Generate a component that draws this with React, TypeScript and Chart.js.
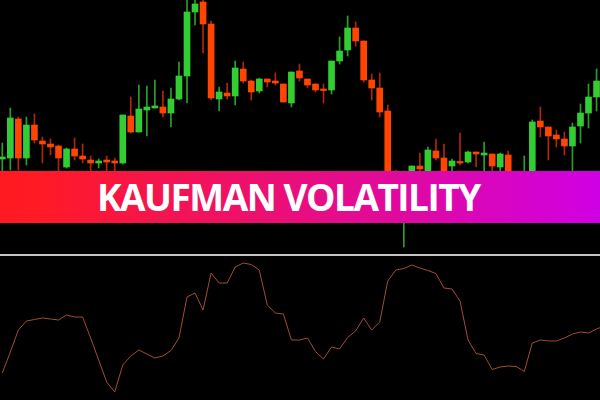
import React, { useEffect, useRef } from "react";
import { Chart, registerables } from "chart.js";

Chart.register(...registerables);

// Candles (price units, arbitrary scale)
const opens = [95, 96, 135, 96, 129, 113, 110, 108, 87, 105, 98, 94, 91, 94, 93, 91, 138, 122, 144, 146, 147, 141, 155, 178, 242, 252, 230, 155, 161, 158, 185, 173, 163, 175, 173, 170, 151, 183, 175, 170, 164, 164, 193, 204, 226, 213, 174, 166, 143, 82, 39, 80, 88, 82, 103, 96, 88, 92, 92, 102, 99, 100, 87, 99, 74, 60, 82, 133, 127, 119, 115, 108, 128, 141, 157];
const highs = [111, 146, 137, 137, 140, 117, 115, 109, 106, 116, 110, 98, 95, 98, 96, 139, 157, 169, 168, 174, 163, 166, 192, 256, 258, 256, 233, 167, 171, 193, 192, 174, 176, 175, 181, 170, 182, 190, 175, 170, 170, 193, 217, 238, 232, 213, 180, 181, 149, 84, 62, 88, 101, 107, 115, 110, 95, 121, 103, 102, 112, 100, 101, 103, 78, 98, 134, 147, 127, 124, 122, 131, 150, 170, 185];
const lows = [82, 84, 84, 89, 111, 91, 99, 82, 86, 94, 91, 82, 86, 82, 82, 90, 121, 122, 118, 146, 137, 127, 154, 151, 229, 201, 154, 143, 155, 149, 171, 154, 161, 167, 169, 152, 147, 173, 166, 162, 151, 160, 190, 198, 208, 172, 154, 137, 79, 49, 7, 70, 82, 80, 94, 80, 82, 89, 91, 87, 82, 82, 82, 80, 54, 55, 79, 117, 94, 107, 99, 82, 111, 126, 143];
const closes = [97, 136, 96, 129, 114, 110, 107, 96, 105, 98, 95, 91, 93, 92, 91, 139, 122, 145, 147, 148, 141, 155, 178, 242, 250, 230, 156, 162, 158, 186, 173, 162, 175, 172, 171, 152, 182, 176, 169, 164, 163.5, 193, 203, 226, 213, 174, 166, 142, 82, 59, 54, 88, 85, 104, 96, 82, 93, 91, 102, 100, 101, 88, 100, 82, 59, 78, 132, 127, 118, 115, 108, 127, 141, 157, 173];

// Kaufman volatility indicator values (one per candle, plus one beyond the edge)
const volatility = [27, 48, 70, 79, 80.5, 82, 81, 80, 85, 83, 83, 62, 40, 18, 8, 35, 44, 50, 46, 42, 44, 49.5, 62, 103, 107, 90, 127, 117, 117, 133, 137, 135.5, 130, 95, 87, 86, 60, 60, 62, 48.5, 41, 53, 51, 62.5, 69, 82, 70, 78, 119, 130, 131.5, 135, 132, 129.5, 126.5, 112, 111, 99, 60, 46.5, 45, 30.5, 33, 34, 33.5, 28.5, 57, 60, 59, 59, 62, 66, 68, 67, 71, 74];

const bannerTitle = "KAUFMAN VOLATILITY";

const X_MIN = -0.2864;
const X_MAX = 74.43;
const UP = "#32cd32";
const DOWN = "#ff4500";
const UP_WICK = "#2aa02a";
const DOWN_WICK = "#b0280c";

export default function App() {
  const priceRef = useRef<HTMLCanvasElement>(null);
  const volRef = useRef<HTMLCanvasElement>(null);

  useEffect(() => {
    document.body.style.margin = "0";
    document.body.style.background = "#000";
    const idx = opens.map((_, i) => i);
    const isUp = idx.map((i) => closes[i] >= opens[i]);

    const price = new Chart(priceRef.current as HTMLCanvasElement, {
      type: "bar",
      data: {
        datasets: [
          {
            label: "body",
            data: idx.map((i) => ({ x: i, y: [opens[i], closes[i]] })) as any,
            backgroundColor: isUp.map((u) => (u ? UP : DOWN)),
            barThickness: 6,
            grouped: false,
            minBarLength: 1.5,
            borderWidth: 0,
            order: 0,
          } as any,
          {
            label: "wick",
            data: idx.map((i) => ({ x: i, y: [lows[i], highs[i]] })) as any,
            backgroundColor: isUp.map((u) => (u ? UP_WICK : DOWN_WICK)),
            barThickness: 1,
            grouped: false,
            borderWidth: 0,
            order: 1,
          } as any,
        ],
      },
      options: {
        responsive: false,
        maintainAspectRatio: false,
        animation: false,
        devicePixelRatio: 1,
        events: [],
        layout: { padding: 0 },
        plugins: { legend: { display: false }, tooltip: { enabled: false } },
        scales: {
          x: { type: "linear", min: X_MIN, max: X_MAX, offset: false, display: false },
          y: { type: "linear", min: 0, max: 254, display: false },
        },
      },
    });

    const vol = new Chart(volRef.current as HTMLCanvasElement, {
      type: "line",
      data: {
        datasets: [
          {
            label: "Kaufman Volatility",
            data: volatility.map((v, i) => ({ x: i, y: v })),
            borderColor: "#a24c34",
            borderWidth: 1,
            pointRadius: 0,
            tension: 0,
            fill: false,
          },
        ],
      },
      options: {
        responsive: false,
        maintainAspectRatio: false,
        animation: false,
        devicePixelRatio: 1,
        events: [],
        layout: { padding: 0 },
        plugins: { legend: { display: false }, tooltip: { enabled: false } },
        scales: {
          x: { type: "linear", min: X_MIN, max: X_MAX, offset: false, display: false },
          y: { type: "linear", min: 0, max: 144, display: false },
        },
      },
    });

    return () => {
      price.destroy();
      vol.destroy();
    };
  }, []);

  return (
    <div style={{ position: "fixed", left: 0, top: 0, width: 600, height: 400, background: "#000", overflow: "hidden" }}>
      <canvas ref={priceRef} width={600} height={254} style={{ position: "absolute", left: 0, top: 0, width: 600, height: 254 }} />
      <div style={{ position: "absolute", left: 0, top: 254, width: 600, height: 2, background: "#c4c4c4" }} />
      <canvas ref={volRef} width={600} height={144} style={{ position: "absolute", left: 0, top: 256, width: 600, height: 144 }} />
      <div
        style={{
          position: "absolute",
          left: 0,
          top: 171,
          width: 600,
          height: 52,
          background: "linear-gradient(90deg, #ff1a22 0%, #ff1a24 6%, #cf00e4 100%)",
        }}
      >
        <span
          style={{
            position: "absolute",
            left: 97,
            top: 0,
            font: '700 37px "Open Sans"',
            lineHeight: "52px",
            color: "#fff",
            letterSpacing: "-1.5px",
            whiteSpace: "nowrap",
          }}
        >
          {bannerTitle}
        </span>
      </div>
    </div>
  );
}
